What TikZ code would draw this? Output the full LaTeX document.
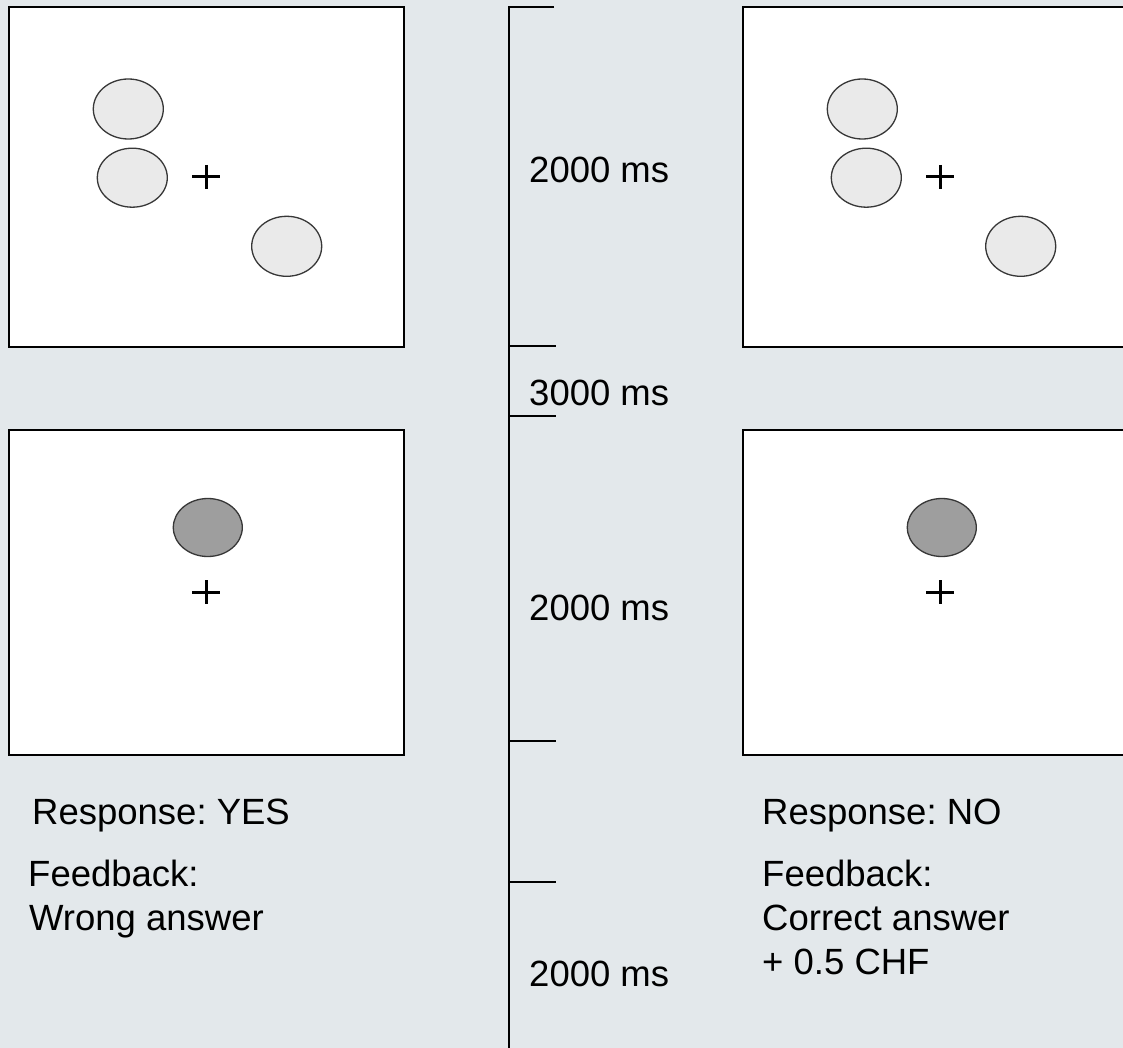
\documentclass[tikz,border=0pt]{standalone}
\usepackage{fontspec}
\setmainfont{Liberation Sans}
\frenchspacing
\definecolor{bgc}{RGB}{227,232,235}
\definecolor{lightdot}{RGB}{234,234,234}
\definecolor{darkdot}{RGB}{158,158,158}
\definecolor{dotline}{RGB}{55,55,55}
\tikzset{
  screen/.style={draw=black, line width=2.8pt, fill=white},
  dotlight/.style={draw=dotline, line width=1.3pt, fill=lightdot},
  dotdark/.style={draw=dotline, line width=1.3pt, fill=darkdot},
  fixcross/.style={draw=black, line width=3pt},
  timeline/.style={draw=black, line width=2.4pt},
  label/.style={anchor=base west, inner sep=0pt, font=\fontsize{36.5}{43}\selectfont\frenchspacing}
}
\begin{document}
\begin{tikzpicture}[x=1pt, y=-1pt]
\useasboundingbox (0,0) rectangle (1123,1048);
\clip (0,0) rectangle (1123,1048);
\fill[bgc] (0,0) rectangle (1123,1048);

% screens
\draw[screen] (9,7) rectangle (404,347);
\draw[screen] (9,430) rectangle (404,755);
\draw[screen] (743,7) rectangle (1138,347);
\draw[screen] (743,430) rectangle (1138,755);

% stimuli left top
\draw[dotlight] (128.3,109) ellipse [x radius=35pt, y radius=30pt];
\draw[dotlight] (132.3,177.7) ellipse [x radius=35pt, y radius=29.5pt];
\draw[dotlight] (286.7,246.3) ellipse [x radius=35pt, y radius=30pt];
\draw[fixcross] (192,177) -- (220,177) (206,165) -- (206,189);

% stimuli right top
\draw[dotlight] (862.3,109) ellipse [x radius=35pt, y radius=30pt];
\draw[dotlight] (866.3,177.7) ellipse [x radius=35pt, y radius=29.5pt];
\draw[dotlight] (1020.7,246.3) ellipse [x radius=35pt, y radius=30pt];
\draw[fixcross] (926,177) -- (954,177) (940,165) -- (940,189);

% probe left bottom
\draw[dotdark] (207.8,527.5) ellipse [x radius=34.5pt, y radius=29pt];
\draw[fixcross] (192,592) -- (220,592) (206,580) -- (206,604);

% probe right bottom
\draw[dotdark] (941.8,527.5) ellipse [x radius=34.5pt, y radius=29pt];
\draw[fixcross] (926,592) -- (954,592) (940,580) -- (940,604);

% timeline
\coordinate (tl0) at (509,7);
\coordinate (tlend) at (509,1048);
\coordinate (k0) at (554,7);
\coordinate (a1) at (509,346); \coordinate (b1) at (556,346);
\coordinate (a2) at (509,416); \coordinate (b2) at (556,416);
\coordinate (a3) at (509,741); \coordinate (b3) at (556,741);
\coordinate (a4) at (509,882); \coordinate (b4) at (556,882);
\draw[timeline, line join=miter] (k0) -- (tl0) -- (tlend);
\draw[timeline] (a1) -- (b1);
\draw[timeline] (a2) -- (b2);
\draw[timeline] (a3) -- (b3);
\draw[timeline] (a4) -- (b4);

\node[label] (d1) at (529,183) {2000 ms};
\node[label] (d2) at (529,405) {3000 ms};
\node[label] (d3) at (529,620) {2000 ms};
\node[label] (d4) at (529,986) {2000 ms};

% left captions
\node[label] (r1) at (32,824) {Response: YES};
\node[label] (f1) at (28,886) {Feedback:};
\node[label] (f1b) at (29,930) {Wrong answer};

% right captions
\node[label] (r2) at (762,824) {Response: NO};
\node[label] (f2) at (762,886) {Feedback:};
\node[label] (f2b) at (762,930) {Correct answer};
\node[label] (f2c) at (762,974) {+ 0.5 CHF};
\end{tikzpicture}
\end{document}
